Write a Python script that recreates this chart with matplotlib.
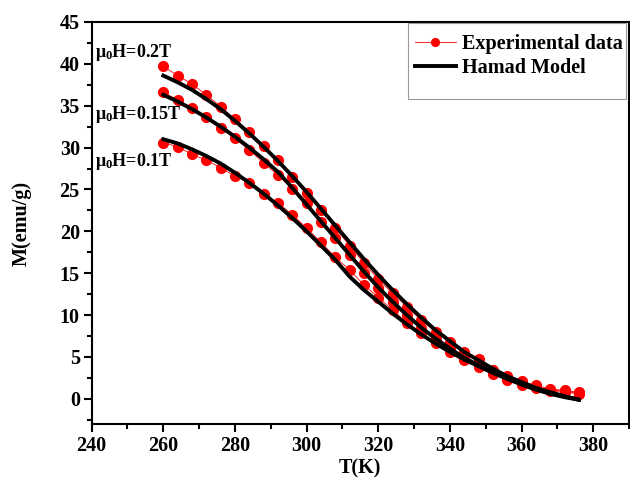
import numpy as np
import matplotlib
matplotlib.use('Agg')
import matplotlib.pyplot as plt
from matplotlib.patches import Rectangle
from matplotlib.ticker import MultipleLocator

plt.rcParams['font.family']=['Liberation Serif','DejaVu Serif']
plt.rcParams['font.weight']='bold'
plt.rcParams['mathtext.fontset']='custom'
plt.rcParams['mathtext.rm']='Liberation Serif:bold'
plt.rcParams['mathtext.it']='Liberation Serif:bold'
plt.rcParams['mathtext.bf']='Liberation Serif:bold'

# temperature grid of the measurements (K)
T=[260,264,268,272,276,280,284,288,292,296,300,304,308,312,316,
   320,324,328,332,336,340,344,348,352,356,360,364,368,372,376]

# experimental M (emu/g)
exp_02=[39.7,38.6,37.6,36.3,34.9,33.4,31.9,30.2,28.5,26.5,24.6,22.6,20.4,18.3,16.2,
        14.3,12.6,11.0,9.4,8.0,6.8,5.6,4.7,3.5,2.7,2.1,1.6,1.2,1.0,0.8]
exp_015=[36.6,35.7,34.7,33.6,32.4,31.1,29.7,28.2,26.7,25.1,23.4,21.1,19.2,17.2,15.0,
         13.2,11.6,10.0,8.5,7.2,6.0,4.9,4.0,3.1,2.4,1.9,1.4,1.1,0.9,0.7]
exp_01=[30.6,30.1,29.2,28.5,27.6,26.6,25.8,24.5,23.4,22.0,20.4,18.7,16.9,15.4,13.6,
        12.1,10.6,9.1,7.9,6.7,5.6,4.6,3.8,3.0,2.3,1.7,1.3,0.9,0.8,0.6]

# Hamad model curves
mod_02=[38.6,37.8,36.9,35.8,34.6,33.2,31.7,30.1,28.4,26.6,24.7,22.7,20.7,18.7,16.7,
        14.8,13.0,11.3,9.7,8.2,6.9,5.6,4.6,3.6,2.7,2.0,1.3,0.8,0.3,-0.1]
mod_015=[36.3,35.5,34.6,33.6,32.5,31.3,30.0,28.6,27.1,25.2,23.2,21.2,19.2,17.2,15.2,
         13.3,11.6,10.0,8.5,7.2,6.0,4.9,4.0,3.2,2.4,1.8,1.2,0.7,0.3,-0.1]
mod_01=[31.0,30.5,29.8,29.0,28.1,27.0,25.8,24.5,23.1,21.6,20.0,18.3,16.6,14.6,13.0,
        11.6,10.2,8.9,7.7,6.6,5.6,4.7,3.9,3.1,2.4,1.7,1.1,0.6,0.2,-0.1]

fields=[r'$\mu_0$H=0.2T',r'$\mu_0$H=0.15T',r'$\mu_0$H=0.1T']
field_pos=[(240.9,40.8),(240.9,33.4),(240.9,27.8)]

fig=plt.figure(figsize=(6.3,4.78),dpi=100)
ax=fig.add_axes([0.1455,0.113,0.853,0.841])

for i,(e,m) in enumerate([(exp_02,mod_02),(exp_015,mod_015),(exp_01,mod_01)]):
	ax.plot(T,e,color='#ff0000',lw=0.6,marker='o',ms=7,mec='#ff0000',mfc='#ff0000',
		label='Experimental data' if i==0 else None,zorder=2)
	ax.plot(T,m,color='black',lw=2.8,label='Hamad Model' if i==0 else None,zorder=3)

for s,(x,y) in zip(fields,field_pos):
	ax.text(x,y,s,fontsize=13,fontweight='bold',ha='left',va='baseline')

ax.set_xlim(240,390)
ax.set_ylim(-3,45)
ax.xaxis.set_major_locator(MultipleLocator(20))
ax.xaxis.set_minor_locator(MultipleLocator(10))
ax.yaxis.set_major_locator(MultipleLocator(5))
ax.yaxis.set_minor_locator(MultipleLocator(2.5))
ax.tick_params(which='major',direction='out',length=6,width=1.5,labelsize=14.5,pad=2.5)
ax.tick_params(which='minor',direction='out',length=3.3,width=1.5)
for sp in ax.spines.values():
	sp.set_linewidth(1.5)
ax.set_xlabel('T(K)',fontsize=14.5,fontweight='bold',labelpad=2)
ax.set_ylabel('M(emu/g)',fontsize=14.5,fontweight='bold',labelpad=20)

# origin style legend frame
ax.add_patch(Rectangle((0.588,0.808),0.4055,0.1895,transform=ax.transAxes,
	fill=False,edgecolor='#999999',lw=0.8,zorder=5))
ax.legend(loc='upper left',bbox_to_anchor=(0.584,0.993),frameon=False,
	prop={'size':14.5,'weight':'bold'},handlelength=2.05,handletextpad=0.33,
	borderpad=0.45,borderaxespad=0,labelspacing=0.22,markerscale=0.8)

fig.savefig('out.png',dpi=100)
